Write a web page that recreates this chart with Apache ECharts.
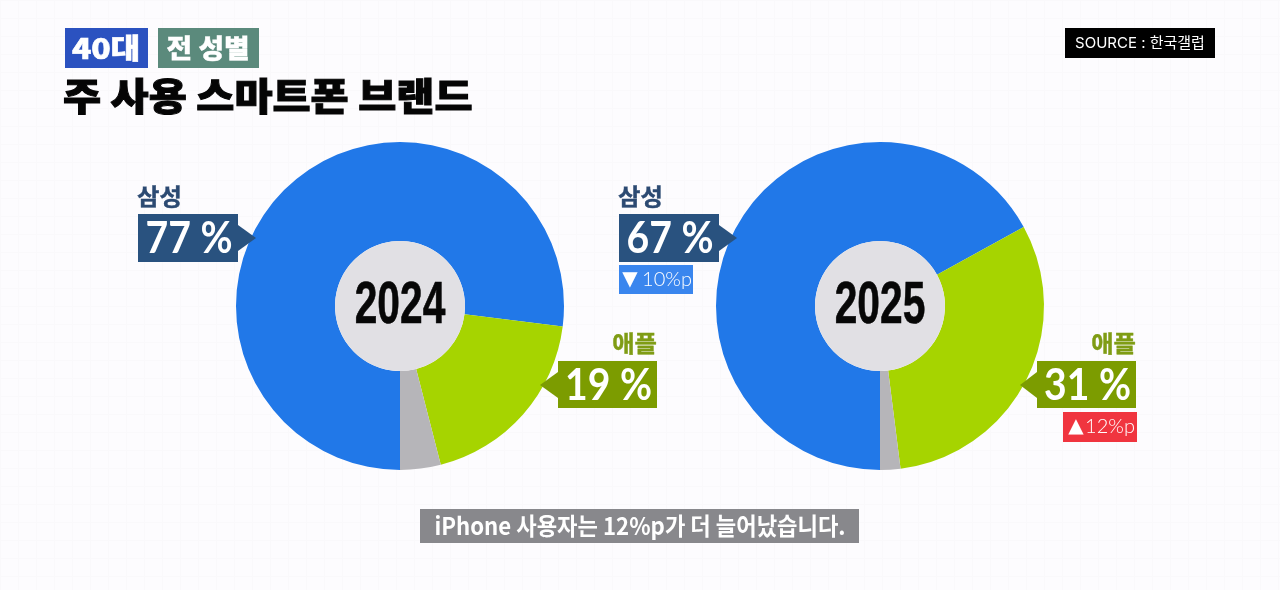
<!DOCTYPE html>
<html>
<head>
<meta charset="utf-8">
<title>주 사용 스마트폰 브랜드</title>
<script src="https://cdn.jsdelivr.net/npm/echarts@6/dist/echarts.min.js"></script>
<style>
html, body { margin: 0; padding: 0; background-color: #fdfcfe; }
#main {
    width: 1280px; height: 590px;
    background-image: linear-gradient(#faf9fb 1px, transparent 1px), linear-gradient(90deg, #faf9fb 1px, transparent 1px);
    background-size: 18px 18px;
}
</style>
</head>
<body>
<div id="main"></div>
<script>
var years = ['2024', '2025'];
var brands = ['삼성', '애플', '기타'];
var values2024 = [77, 19, 4];
var values2025 = [67, 31, 2];
var changeMarks = ['▼', '▲'];
var changes2025 = ['10%p', '12%p'];
var colors = ['#2178e8', '#a6d400', '#b6b5b9'];

var KR = '"Noto Sans CJK KR"';
var mychart = echarts.init(document.getElementById('main'));

function pie(center, values) {
    return {
        type: 'pie',
        center: center,
        radius: [65, 164],
        startAngle: 270,
        silent: true,
        animation: false,
        label: { show: false },
        itemStyle: { borderWidth: 0 },
        data: values.map(function (v, i) {
            return { name: brands[i], value: v, itemStyle: { color: colors[i] } };
        })
    };
}

function box(x, y, w, h, color) {
    return { type: 'rect', z: 20, shape: { x: x, y: y, width: w, height: h }, style: { fill: color } };
}

// scale 은 글자 폭, bold 는 외곽선 두께
function text(x, y, s, font, color, align, scale, bold) {
    return {
        type: 'text', x: x, y: y, scaleX: scale || 1, z: 21,
        style: {
            text: s, font: font, fill: color, align: align || 'left', verticalAlign: 'middle',
            stroke: bold ? color : 'transparent', lineWidth: bold || 0
        }
    };
}

// 가운데 원 + 연도
function hub(cx, year) {
    return [
        { type: 'circle', shape: { cx: cx, cy: 306, r: 65 }, style: { fill: '#e1e0e4' }, z: 10 },
        {
            type: 'text', x: cx, y: 307, scaleX: 0.69, z: 11,
            style: {
                text: year, font: 'bold 59px "Liberation Sans"', fill: '#070707', align: 'center', verticalAlign: 'middle',
                stroke: '#070707', lineWidth: 0.6
            }
        }
    ];
}

// 값 박스 + 화살표
function callout(x, y, w, h, tipX, tipY, color, nameColor, value, name, side) {
    var base = side === 'left' ? x + w : x;
    var out = [
        box(x, y, w, h, color),
        { type: 'polygon', z: 20, shape: { points: [[base, tipY - 13], [tipX, tipY], [base, tipY + 13]] }, style: { fill: color } },
        text(x + w / 2 + 1, y + h / 2 + 1, value + ' %', 'bold 44px Lato', '#ffffff', 'center', 0.89)
    ];
    if (side === 'left') {
        out.push(text(x - 1, y - 18, name, 'bold 23px ' + KR, nameColor, 'left', 1.06, 0.4));
    } else {
        out.push(text(x + w, y - 18, name, 'bold 23px ' + KR, nameColor, 'right', 1.06, 0.4));
    }
    return out;
}

var graphic = [
    box(65, 28, 83, 40, '#2b52c0'),
    text(106, 48, '40대', '900 28px ' + KR, '#ffffff', 'center', 1.14, 0.6),
    box(158, 28, 101, 40, '#5b8a7c'),
    text(208, 48, '전 성별', '900 26px ' + KR, '#ffffff', 'center', 1.07, 0.4),
    text(63, 96, '주 사용 스마트폰 브랜드', '900 38px ' + KR, '#050505', 'left', 1.09, 1),
    box(1065, 28, 150, 30, '#000000'),
    text(1140, 43, 'SOURCE : 한국갤럽', '15px Inter, ' + KR, '#ffffff', 'center'),
    box(420, 509, 439, 34, '#88888c'),
    text(640, 526, 'iPhone 사용자는 12%p가 더 늘어났습니다.', 'bold 24px ' + KR, '#ffffff', 'center', 0.925),
    box(619, 265, 74, 29, '#3a86ee'),
    text(630, 280, changeMarks[0], '20px "DejaVu Sans"', '#ffffff', 'center'),
    text(667, 280, changes2025[0], '300 20px Lato', '#ffffff', 'center'),
    box(1063, 412, 74, 30, '#f0353f'),
    text(1076, 427, changeMarks[1], '20px "DejaVu Sans"', '#ffffff', 'center'),
    text(1110, 427, changes2025[1], '300 20px Lato', '#ffffff', 'center')
]
    .concat(hub(400, years[0]))
    .concat(hub(880, years[1]))
    .concat(callout(138, 214, 100, 48, 256, 238, '#29527f', '#2c4a72', values2024[0], brands[0], 'left'))
    .concat(callout(619, 214, 100, 48, 737, 238, '#29527f', '#2c4a72', values2025[0], brands[0], 'left'))
    .concat(callout(558, 361, 99, 47, 540, 385, '#7c9c00', '#7f9c14', values2024[1], brands[1], 'right'))
    .concat(callout(1037, 361, 99, 47, 1020, 385, '#7c9c00', '#7f9c14', values2025[1], brands[1], 'right'));

var option = {
    animation: false,
    series: [pie([400, 306], values2024), pie([880, 306], values2025)],
    graphic: graphic
};
mychart.setOption(option);
</script>
</body>
</html>
